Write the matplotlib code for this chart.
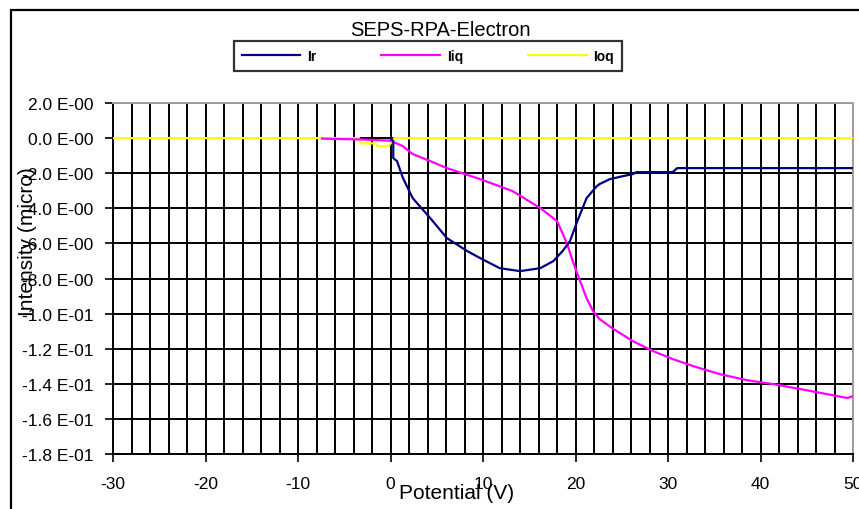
import matplotlib
matplotlib.use("Agg")
import matplotlib.pyplot as plt
from matplotlib.patches import Rectangle
from matplotlib.ticker import MultipleLocator

# Retarding potential sweep (V) and collected currents
ir_v = [0.0, 0.3, 0.3, 0.7, 1.35, 2.4, 4.3, 6.1, 8.3, 9.7, 11.8, 14.0, 16.2, 17.6,
        18.6, 19.4, 20.2, 21.2, 22.3, 22.6, 23.7, 25.1, 26.2, 26.6, 30.5, 31.0, 50.0]
ir = [0.0, -0.0017, -0.0114, -0.0131, -0.0228, -0.0342, -0.0456, -0.0570, -0.0644,
      -0.0684, -0.0741, -0.0758, -0.0741, -0.0701, -0.0644, -0.0587, -0.0473, -0.0342,
      -0.0274, -0.0262, -0.0234, -0.0217, -0.0205, -0.0194, -0.0194, -0.0171, -0.0171]

iiq_v = [-7.4, -3.0, 0.0, 1.3, 2.4, 4.3, 6.1, 9.7, 13.2, 16.2, 18.0, 18.5, 19.1, 19.7,
         20.5, 21.2, 21.9, 22.6, 24.1, 26.2, 28.4, 30.5, 32.7, 35.6, 38.5, 41.4, 44.3,
         47.2, 49.4, 50.0]
iiq = [-0.0003, -0.0008, -0.0015, -0.0045, -0.0091, -0.0131, -0.0171, -0.0234, -0.0302,
       -0.0399, -0.0473, -0.0530, -0.0604, -0.0701, -0.0815, -0.0912, -0.0986, -0.1031,
       -0.1088, -0.1157, -0.1214, -0.1259, -0.1299, -0.1345, -0.1379, -0.1402, -0.1430,
       -0.1459, -0.1481, -0.1470]

ioq_v = [-30.0, -3.4, -3.2, -1.6, -1.4, -0.2, 0.4, 50.0]
ioq = [0.0, 0.0, -0.003, -0.003, -0.0046, -0.0046, 0.0, 0.0]

y_ticks = [0.02, 0.0, -0.02, -0.04, -0.06, -0.08, -0.10, -0.12, -0.14, -0.16, -0.18]
y_tick_labels = ["2.0 E-00", "0.0 E-00", "-2.0 E-00", "-4.0 E-00", "-6.0 E-00",
                 "-8.0 E-00", "-1.0 E-01", "-1.2 E-01", "-1.4 E-01", "-1.6 E-01",
                 "-1.8 E-01"]
x_ticks = [-30, -20, -10, 0, 10, 20, 30, 40, 50]

plt.rcParams["font.family"] = ["Liberation Sans", "DejaVu Sans"]

W, H = 859, 510
fig = plt.figure(figsize=(W / 100, H / 100), dpi=100)
fig.patch.set_facecolor("white")

# outer chart-area border (runs past the right and bottom edges)
fig.patches.append(Rectangle((11 / W, -0.1), 1.2, 1 - 11 / H + 0.1,
                             transform=fig.transFigure, fill=False,
                             edgecolor="black", linewidth=1.6))

ax = fig.add_axes([113 / W, 55 / H, 740 / W, 351 / H])

ax.plot(ioq_v, ioq, color="#ffff00", linewidth=1.6, label="Ioq", zorder=3)
ax.plot(iiq_v, iiq, color="#ff00ff", linewidth=1.6, label="Iiq", zorder=4)
ax.plot(ir_v, ir, color="#000080", linewidth=1.6, label="Ir", zorder=5)

ax.set_xlim(-30, 50)
ax.set_ylim(-0.18, 0.02)
ax.set_xticks(x_ticks)
ax.set_xticklabels([str(t) for t in x_ticks])
ax.xaxis.set_minor_locator(MultipleLocator(2))
ax.set_yticks(y_ticks)
ax.set_yticklabels(y_tick_labels)

ax.grid(which="both", axis="x", color="black", linewidth=1.4, zorder=1)
ax.grid(which="major", axis="y", color="black", linewidth=1.4, zorder=1)
ax.set_axisbelow(True)

ax.tick_params(axis="both", which="major", direction="out", length=6, width=1.2,
               labelsize=12.5, colors="black")
ax.tick_params(axis="y", pad=8)
ax.tick_params(axis="x", pad=10)
ax.tick_params(axis="x", which="minor", length=0)

for side in ("left", "bottom"):
    ax.spines[side].set_color("black")
    ax.spines[side].set_linewidth(1.4)
for side in ("top", "right"):
    ax.spines[side].set_color("#a0a0a0")
    ax.spines[side].set_linewidth(1.4)

fig.text(440 / W, 1 - 30 / H, "SEPS-RPA-Electron", ha="center", va="center",
         fontsize=14.5)
fig.text(457 / W, 1 - 494 / H, "Potential (V)", ha="center", va="center",
         fontsize=15)
fig.text(28 / W, 1 - 242 / H, "Intensity (micro)", ha="center", va="center",
         rotation=90, fontsize=15)

handles, labels = ax.get_legend_handles_labels()
order = [2, 1, 0]
leg = fig.legend([handles[i] for i in order], [labels[i] for i in order],
                 loc="center", bbox_to_anchor=(428 / W, 1 - 57 / H), ncol=3,
                 frameon=True, fancybox=False, handlelength=4.2,
                 handletextpad=0.5, columnspacing=4.7, borderpad=0.55,
                 borderaxespad=0, prop={"weight": "bold", "size": 10})
leg.get_frame().set_edgecolor("black")
leg.get_frame().set_linewidth(1.6)

fig.savefig("out.png", dpi=100)
